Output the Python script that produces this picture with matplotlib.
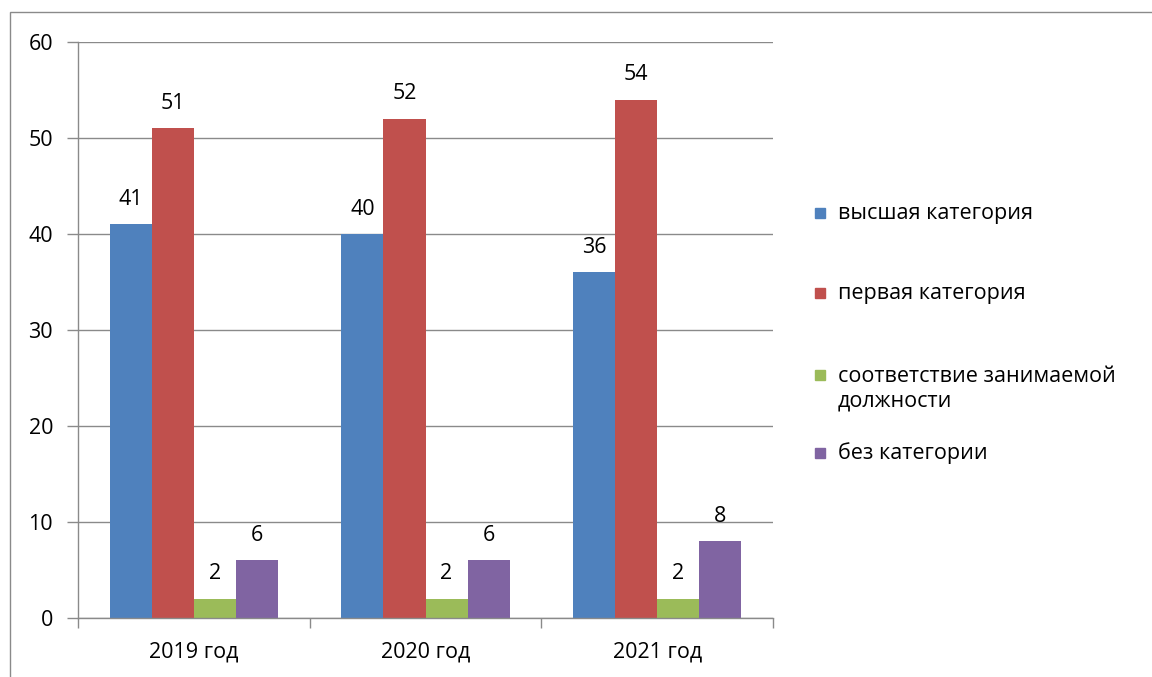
import numpy as np
import matplotlib.pyplot as plt
from matplotlib.patches import Rectangle

plt.rcParams['font.family'] = ['Open Sans', 'DejaVu Sans']

years = ['2019 год', '2020 год', '2021 год']
series = ['высшая категория', 'первая категория',
          'соответствие занимаемой\nдолжности', 'без категории']
vysshaya = [41, 40, 36]
pervaya = [51, 52, 54]
sootv = [2, 2, 2]
bez = [6, 6, 8]
values = [vysshaya, pervaya, sootv, bez]
colors = ['#4F81BD', '#C0504D', '#9BBB59', '#8064A2']
grid_c = '#8a8a8a'
fs = 15.5


def run():
    fig = plt.figure(figsize=(11.52, 6.77), dpi=100)
    ax = fig.add_axes([78/1152, 1 - 618/677, (773 - 78)/1152, (618 - 42)/677])

    x = np.arange(len(years))
    w = 1 / 5.5   # excel gap width 150%
    for i, (vals, c) in enumerate(zip(values, colors)):
        pos = x + (i - 1.5)*w
        ax.bar(pos, vals, width=w, color=c, zorder=2)
        for px, v in zip(pos, vals):
            ax.annotate(str(v), (px, v), xytext=(0, 14), textcoords='offset points',
                        ha='center', va='baseline', fontsize=fs, zorder=3)

    ax.set_xlim(-0.5, 2.5)
    ax.set_ylim(0, 60)
    ax.set_yticks(range(0, 61, 10))
    ax.grid(axis='y', color=grid_c, lw=1.0, zorder=1)
    ax.set_axisbelow(True)

    ax.set_xticks(x)
    ax.set_xticklabels(years)
    ax.set_xticks([-0.5, 0.5, 1.5, 2.5], minor=True)
    ax.tick_params(axis='x', which='major', length=0, pad=17, labelsize=fs)
    ax.tick_params(axis='x', which='minor', length=7, color=grid_c, width=1.0)
    ax.tick_params(axis='y', length=8, color=grid_c, width=1.0, pad=10, labelsize=fs)

    for s in ['top', 'right']:
        ax.spines[s].set_visible(False)
    for s in ['left', 'bottom']:
        ax.spines[s].set_color(grid_c)
        ax.spines[s].set_linewidth(1.0)

    # legend, drawn by hand so the square sits on the first line
    rows = [213, 293, 375, 453]
    for name, c, y in zip(series, colors, rows):
        fig.add_artist(Rectangle((815/1152, 1 - (y + 5)/677), 10/1152, 10/677,
                                 transform=fig.transFigure, color=c))
        if '\n' in name:
            fig.text(838/1152, 1 - (y - 9)/677, name, fontsize=fs, va='top',
                     linespacing=1.25, transform=fig.transFigure)
        else:
            fig.text(838/1152, 1 - y/677, name, fontsize=fs, va='center',
                     transform=fig.transFigure)

    # outer border of the chart
    fig.add_artist(Rectangle((10/1152, -0.05), 1.2, 1.05 - 12/677,
                             transform=fig.transFigure, fill=False,
                             edgecolor=grid_c, lw=1.0))

    fig.savefig('out.png', dpi=100)


if __name__ == "__main__":
    run()
